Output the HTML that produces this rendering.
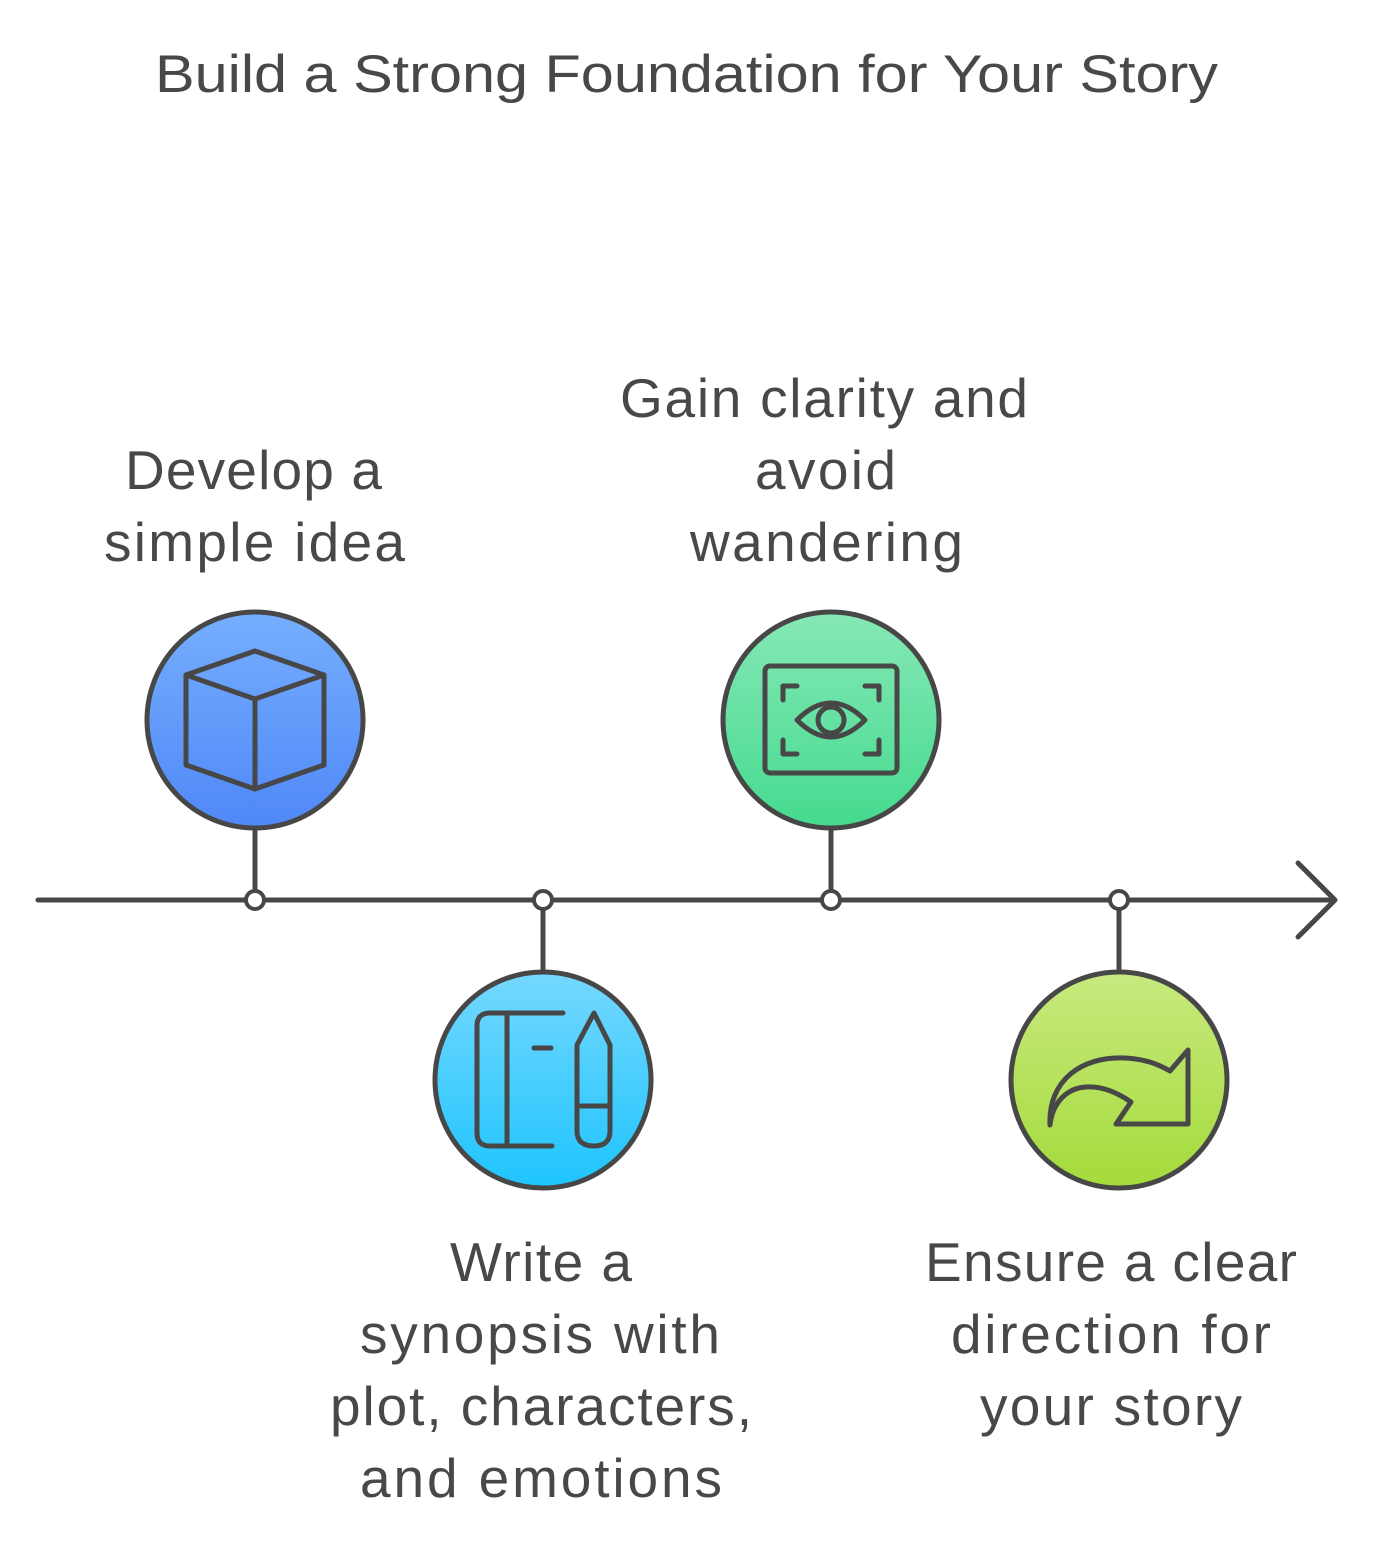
<!DOCTYPE html>
<html><head><meta charset="utf-8"><style>
html,body{margin:0;padding:0;background:#fff;}
svg{display:block;}
text{font-family:"Liberation Sans",sans-serif;fill:#484848;}
</style></head><body>
<svg width="1374" height="1548" viewBox="0 0 1374 1548" xmlns="http://www.w3.org/2000/svg">
<defs>
<linearGradient id="gb" x1="0" y1="0" x2="0" y2="1"><stop offset="0" stop-color="#76aefe"/><stop offset="1" stop-color="#4f88f7"/></linearGradient>
<linearGradient id="gc" x1="0" y1="0" x2="0" y2="1"><stop offset="0" stop-color="#75d8fe"/><stop offset="1" stop-color="#1ec4fe"/></linearGradient>
<linearGradient id="gg" x1="0" y1="0" x2="0" y2="1"><stop offset="0" stop-color="#86e8b6"/><stop offset="1" stop-color="#45da8e"/></linearGradient>
<linearGradient id="gl" x1="0" y1="0" x2="0" y2="1"><stop offset="0" stop-color="#c8e97f"/><stop offset="1" stop-color="#a4db3a"/></linearGradient>
</defs>
<text x="155" y="92" font-size="53" textLength="1063" lengthAdjust="spacingAndGlyphs">Build a Strong Foundation for Your Story</text>

<g stroke="#474747" stroke-width="5" fill="none" stroke-linecap="round" stroke-linejoin="round">
<line x1="38" y1="900" x2="1334" y2="900"/>
<polyline points="1298,863 1335,900 1298,937"/>
<line x1="255" y1="828" x2="255" y2="891"/>
<line x1="831" y1="828" x2="831" y2="891"/>
<line x1="543" y1="909" x2="543" y2="972"/>
<line x1="1119" y1="909" x2="1119" y2="972"/>
</g>
<g stroke="#474747" stroke-width="4" fill="#fff">
<circle cx="255" cy="900" r="9"/><circle cx="543" cy="900" r="9"/><circle cx="831" cy="900" r="9"/><circle cx="1119" cy="900" r="9"/>
</g>
<g stroke="#474747" stroke-width="5">
<circle cx="255" cy="720" r="108" fill="url(#gb)"/>
<circle cx="543" cy="1080" r="108" fill="url(#gc)"/>
<circle cx="831" cy="720" r="108" fill="url(#gg)"/>
<circle cx="1119" cy="1080" r="108" fill="url(#gl)"/>
</g>
<g stroke="#474747" stroke-width="5" fill="none" stroke-linecap="round" stroke-linejoin="round">
<path d="M186,675 L255,651 L324,675 L324,765 L255,789 L186,765 Z"/>
<path d="M186,675 L255,699 L324,675 M255,699 L255,789"/>
<path d="M518,1013 L490,1013 Q477,1013 477,1026 L477,1133 Q477,1146 490,1146 L552,1146"/>
<line x1="490" y1="1013" x2="563" y2="1013"/>
<line x1="507" y1="1013" x2="507" y2="1146"/>
<line x1="534" y1="1048" x2="551" y2="1048"/>
<path d="M577,1045 L594,1013 L610,1045 L610,1131 Q610,1146 594,1146 Q577,1146 577,1131 Z"/>
<line x1="577" y1="1106" x2="610" y2="1106"/>
<rect x="765" y="666" width="132" height="107" rx="5"/>
<path d="M783,700 L783,686 L797,686 M865,686 L879,686 L879,700 M879,740 L879,754 L865,754 M797,754 L783,754 L783,740"/>
<path d="M797,720 Q831,686 865,720 Q831,754 797,720 Z"/>
<circle cx="831" cy="720" r="13"/>
<path d="M1050,1125 C1048,1080 1082,1056 1125,1058 C1145,1059 1158,1064 1170,1071 L1188,1050 L1188,1124 L1116,1124 L1131,1102 C1115,1091 1100,1086 1086,1087 C1066,1088 1052,1104 1050,1125 Z"/>
</g>

<g font-size="55" lengthAdjust="spacingAndGlyphs">
<text x="125" y="489" textLength="257">Develop a</text>
<text x="104" y="561" textLength="301">simple idea</text>
<text x="620" y="417" textLength="408">Gain clarity and</text>
<text x="755" y="489" textLength="141">avoid</text>
<text x="690" y="561" textLength="273">wandering</text>
<text x="450" y="1281" textLength="182">Write a</text>
<text x="360" y="1353" textLength="360">synopsis with</text>
<text x="330" y="1425" textLength="422">plot, characters,</text>
<text x="360" y="1497" textLength="362">and emotions</text>
<text x="925" y="1281" textLength="372">Ensure a clear</text>
<text x="951" y="1353" textLength="320">direction for</text>
<text x="980" y="1425" textLength="262">your story</text>
</g>
</svg>
</body></html>
